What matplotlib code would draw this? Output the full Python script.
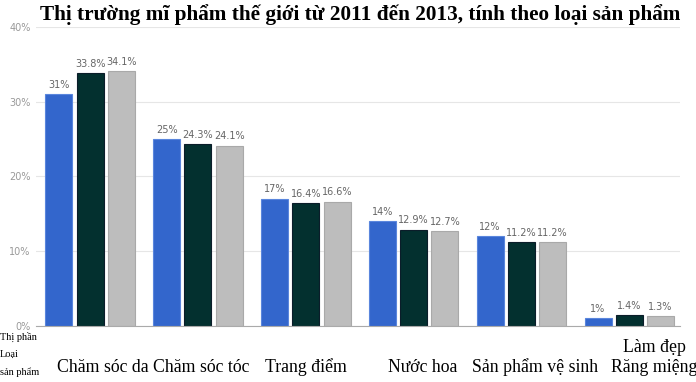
import numpy as np
import matplotlib.pyplot as plt
import matplotlib.transforms as mtransforms

# ============================================================
# 数据
# ============================================================
categories = ["Chăm sóc da", "Chăm sóc tóc", "Trang điểm", "Nước hoa",
              "Sản phẩm vệ sinh", "Làm đẹp\nRăng miệng"]
y2011 = [31, 25, 17, 14, 12, 1]
y2012 = [33.8, 24.3, 16.4, 12.9, 11.2, 1.4]
y2013 = [34.1, 24.1, 16.6, 12.7, 11.2, 1.3]
yticks = [0, 10, 20, 30, 40]

colors = ["#3366CC", "#03302F", "#BDBDBD"]
edges = ["#5a86dd", "#0b1d2a", "#a9a9a9"]
label_shift = [0.12, 0.03, 0.0, 0.08, 0.13, 0.23]  # 类别文字的水平偏移

fig = plt.figure(figsize=(6.96, 3.82), dpi=100)
ax = fig.add_axes([0.052, 0.147, 0.925, 0.782])

x = np.arange(len(categories))
w = 0.25
off = 0.29
for k, (vals, c, ec) in enumerate(zip([y2011, y2012, y2013], colors, edges)):
    xs = x + (k - 1) * off
    ax.bar(xs, vals, width=w, color=c, edgecolor=ec, linewidth=0.8, zorder=2)
    for xi, v in zip(xs, vals):
        ax.text(xi, v + 0.6, f"{v:g}%", ha="center", va="bottom",
                fontsize=7, color="#666666", family="DejaVu Sans")

ax.set_xlim(-0.5, 5.47)
ax.set_ylim(0, 40)
ax.set_yticks(yticks)
ax.set_yticklabels([f"{t}%" for t in yticks], fontsize=7, color="#999999")
ax.tick_params(axis="y", length=0, pad=4)
ax.set_xticks([])
ax.grid(axis="y", color="#e6e6e6", linewidth=0.8, zorder=0)
for s in ["top", "right", "left"]:
    ax.spines[s].set_visible(False)
ax.spines["bottom"].set_color("#aaaaaa")

trans = mtransforms.blended_transform_factory(ax.transData, fig.transFigure)
for i, (cat, sh) in enumerate(zip(categories, label_shift)):
    ax.text(i + sh, 0.015, cat, transform=trans, ha="center", va="bottom",
            fontsize=12.8, family="Liberation Serif", linespacing=1.25)

fig.text(0.0, 0.012, "Thị phần\nLoại\nsản phẩm", ha="left", va="bottom",
         fontsize=7.5, family="Liberation Serif", linespacing=2.15)

fig.text(0.518, 0.962, "Thị trường mĩ phẩm thế giới từ 2011 đến 2013, tính theo loại sản phẩm",
         ha="center", va="center", fontsize=15.3, fontweight="bold",
         family="Liberation Serif")

fig.savefig("out.png", dpi=100)
